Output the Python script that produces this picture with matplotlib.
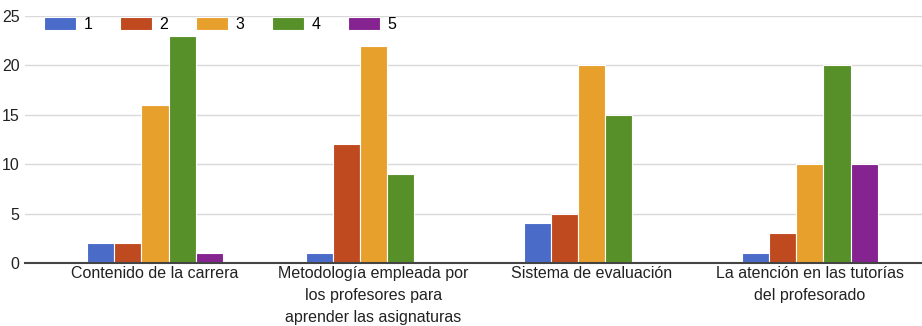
import matplotlib.pyplot as plt
import numpy as np

categories = ["Contenido de la carrera",
              "Metodología empleada por\nlos profesores para\naprender las asignaturas",
              "Sistema de evaluación",
              "La atención en las tutorías\ndel profesorado"]
series = ["1", "2", "3", "4", "5"]
values = [
    [2, 1, 4, 1],
    [2, 12, 5, 3],
    [16, 22, 20, 10],
    [23, 9, 15, 20],
    [1, 0, 0, 10],
]
colors = ["#4a6bc8", "#c04a20", "#e8a02c", "#579028", "#852390"]

plt.rcParams["font.family"] = ["Liberation Sans", "DejaVu Sans"]

fig = plt.figure(figsize=(9.22, 3.26), dpi=100)
ax = fig.add_axes([25 / 922, 63 / 326, 897 / 922, 247 / 326])

x = np.arange(len(categories))
w = 0.124
for i, (name, vals) in enumerate(zip(series, values)):
    ax.bar(x + (i - 2) * w, vals, width=w, color=colors[i], edgecolor="white",
           linewidth=0.8, label=name, zorder=3)

ax.set_xlim((25 - 155) / 218.3, (922 - 155) / 218.3)
ax.set_ylim(0, 25)
ax.set_yticks([0, 5, 10, 15, 20, 25])
ax.yaxis.grid(True, color="#d9d9d9", lw=1, zorder=0)
for s in ("left", "right", "top"):
    ax.spines[s].set_visible(False)
ax.spines["bottom"].set_color("#444444")
ax.spines["bottom"].set_linewidth(1.5)
ax.spines["bottom"].set_zorder(4)
ax.tick_params(axis="both", length=0, labelsize=11.5, colors="#222222")
ax.tick_params(axis="y", pad=4)
ax.tick_params(axis="x", pad=2)
ax.set_xticks(x)
ax.set_xticklabels(categories, linespacing=1.6, va="top")

ax.legend(loc="upper left", bbox_to_anchor=(0.005, 1.055), ncol=5, frameon=False,
          handlelength=2.0, handleheight=0.9, columnspacing=1.7, handletextpad=0.5,
          fontsize=11.5)

fig.savefig("out.png", dpi=100)
